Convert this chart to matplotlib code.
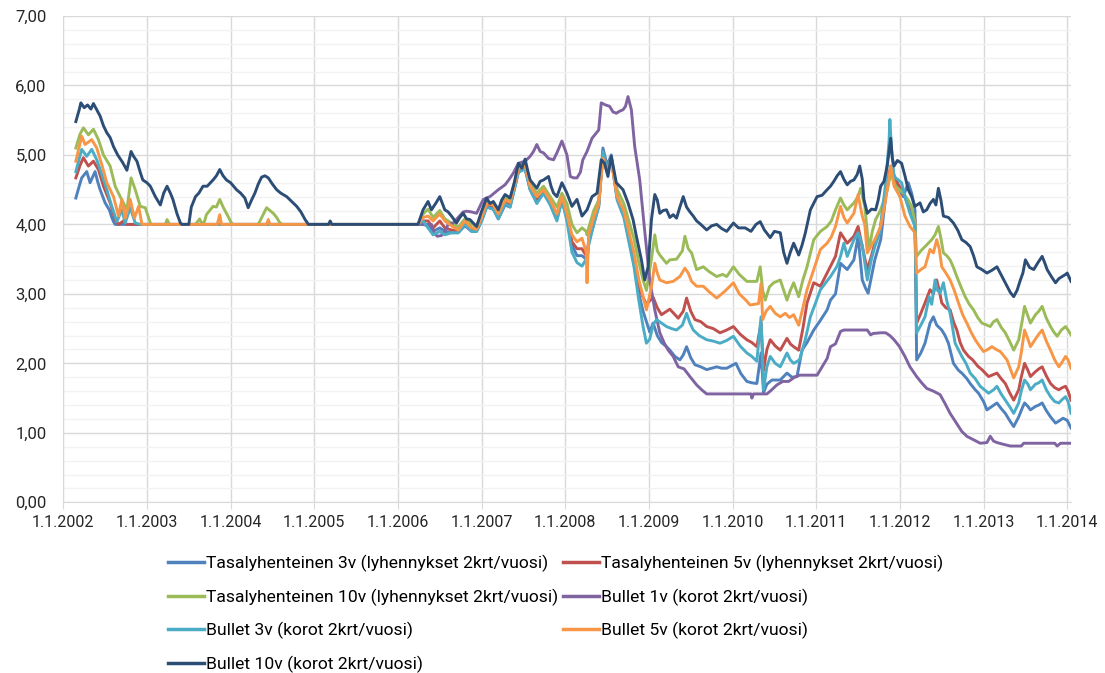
import matplotlib
matplotlib.use("Agg")
import matplotlib.pyplot as plt
import numpy as np
from matplotlib.lines import Line2D
from matplotlib.ticker import FuncFormatter, MultipleLocator

plt.rcParams["font.family"] = ["Roboto", "DejaVu Sans"]

# time axis is in decimal years; 2006.24-2008.97 is shared by the five bundled series
BUNDLE_T = [2006.24, 2006.30, 2006.36, 2006.42, 2006.50, 2006.56, 2006.64, 2006.72, 2006.80, 2006.88,
            2006.94, 2007.00, 2007.06, 2007.14, 2007.20, 2007.28, 2007.34, 2007.39, 2007.44, 2007.52,
            2007.58, 2007.66, 2007.74, 2007.82, 2007.90, 2007.96, 2008.02, 2008.08, 2008.14, 2008.20,
            2008.25, 2008.26, 2008.28, 2008.34, 2008.40, 2008.45, 2008.50, 2008.55, 2008.62, 2008.70,
            2008.76, 2008.82, 2008.88, 2008.93, 2008.97]

# Tasalyhenteinen 3v
TASA3_PRE = [(2002.15, 4.38), (2002.19, 4.55), (2002.22, 4.67), (2002.28, 4.76), (2002.32, 4.60),
             (2002.35, 4.68), (2002.38, 4.76), (2002.41, 4.62), (2002.44, 4.50), (2002.50, 4.31),
             (2002.55, 4.21), (2002.58, 4.10), (2002.60, 4.04), (2002.62, 4.00), (2006.22, 4.00)]
TASA3_MID = [4.00, 4.00, 3.98, 3.90, 3.95, 3.90, 3.88, 3.88, 3.98, 3.90,
             3.90, 4.05, 4.25, 4.22, 4.08, 4.28, 4.25, 4.50, 4.76, 4.80,
             4.50, 4.32, 4.45, 4.30, 4.08, 4.35, 4.08, 3.70, 3.55, 3.55,
             3.50, 3.50, 3.75, 4.00, 4.28, 5.10, 4.85, 5.00, 4.40, 4.15,
             3.80, 3.45, 3.00, 2.75, 2.60]
TASA3_POST = [(2009.01, 2.45), (2009.05, 2.58), (2009.10, 2.40), (2009.15, 2.30), (2009.21, 2.24),
              (2009.25, 2.19), (2009.31, 2.10), (2009.37, 2.05), (2009.41, 2.12), (2009.45, 2.24),
              (2009.50, 2.08), (2009.55, 1.98), (2009.62, 1.95), (2009.69, 1.91), (2009.75, 1.93),
              (2009.81, 1.95), (2009.87, 1.93), (2009.93, 1.93), (2010.04, 2.00), (2010.10, 1.85),
              (2010.17, 1.74), (2010.23, 1.72), (2010.29, 1.71), (2010.34, 2.15), (2010.37, 1.58),
              (2010.41, 1.70), (2010.47, 1.76), (2010.57, 1.76), (2010.65, 1.86), (2010.71, 1.80),
              (2010.77, 1.81), (2010.83, 2.19), (2010.89, 2.30), (2010.97, 2.48), (2011.05, 2.62),
              (2011.13, 2.77), (2011.17, 2.91), (2011.23, 3.00), (2011.29, 3.44), (2011.37, 3.35),
              (2011.45, 3.49), (2011.50, 3.83), (2011.55, 3.20), (2011.59, 3.08), (2011.62, 3.01),
              (2011.66, 3.25), (2011.70, 3.49), (2011.77, 3.78), (2011.83, 4.40), (2011.89, 4.79),
              (2011.95, 4.60), (2012.04, 4.40), (2012.10, 4.60), (2012.14, 4.45), (2012.18, 4.21),
              (2012.20, 2.05), (2012.25, 2.15), (2012.30, 2.29), (2012.36, 2.58), (2012.40, 2.67),
              (2012.44, 2.55), (2012.50, 2.48), (2012.54, 2.40), (2012.58, 2.29), (2012.64, 2.00),
              (2012.70, 1.90), (2012.74, 1.86), (2012.80, 1.78), (2012.84, 1.71), (2012.90, 1.62),
              (2012.94, 1.57), (2013.00, 1.45), (2013.04, 1.33), (2013.10, 1.38), (2013.16, 1.43),
              (2013.21, 1.35), (2013.26, 1.28), (2013.31, 1.18), (2013.36, 1.09), (2013.42, 1.23),
              (2013.46, 1.35), (2013.49, 1.43), (2013.53, 1.38), (2013.56, 1.33), (2013.62, 1.38),
              (2013.66, 1.40), (2013.70, 1.43), (2013.75, 1.32), (2013.80, 1.23), (2013.86, 1.14),
              (2013.90, 1.17), (2013.95, 1.21), (2014.00, 1.18), (2014.045, 1.07)]

# Tasalyhenteinen 5v
TASA5_PRE = [(2002.15, 4.67), (2002.20, 4.85), (2002.24, 4.96), (2002.30, 4.84), (2002.36, 4.91),
             (2002.42, 4.79), (2002.48, 4.55), (2002.56, 4.31), (2002.62, 4.07), (2002.66, 4.00),
             (2002.72, 4.05), (2002.76, 4.00), (2006.22, 4.00)]
TASA5_MID = [4.00, 4.05, 4.05, 3.95, 4.05, 3.95, 3.92, 3.90, 4.02, 3.92,
             3.92, 4.08, 4.27, 4.25, 4.12, 4.32, 4.28, 4.52, 4.78, 4.82,
             4.52, 4.35, 4.47, 4.32, 4.10, 4.38, 4.10, 3.75, 3.65, 3.65,
             3.55, 3.50, 3.80, 4.05, 4.28, 5.05, 4.80, 4.95, 4.38, 4.15,
             3.82, 3.50, 3.10, 2.95, 2.85]
TASA5_POST = [(2009.01, 2.90), (2009.05, 2.95), (2009.10, 2.80), (2009.15, 2.70), (2009.25, 2.78),
              (2009.35, 2.65), (2009.41, 2.75), (2009.45, 2.94), (2009.50, 2.75), (2009.55, 2.63),
              (2009.62, 2.60), (2009.69, 2.53), (2009.77, 2.50), (2009.85, 2.44), (2009.93, 2.48),
              (2010.01, 2.53), (2010.09, 2.42), (2010.17, 2.34), (2010.23, 2.30), (2010.29, 2.24),
              (2010.34, 2.58), (2010.37, 1.90), (2010.41, 2.20), (2010.45, 2.34), (2010.51, 2.25),
              (2010.57, 2.19), (2010.65, 2.36), (2010.69, 2.28), (2010.73, 2.24), (2010.79, 2.19),
              (2010.84, 2.50), (2010.89, 2.87), (2010.97, 3.16), (2011.05, 3.11), (2011.13, 3.30),
              (2011.23, 3.54), (2011.29, 3.88), (2011.37, 3.73), (2011.45, 3.83), (2011.50, 3.97),
              (2011.55, 3.68), (2011.61, 3.35), (2011.66, 3.55), (2011.70, 3.73), (2011.77, 3.97),
              (2011.83, 4.50), (2011.89, 4.84), (2011.95, 4.64), (2012.04, 4.45), (2012.12, 4.21),
              (2012.18, 4.07), (2012.20, 2.58), (2012.25, 2.72), (2012.30, 2.87), (2012.36, 3.06),
              (2012.40, 3.00), (2012.44, 3.20), (2012.47, 3.05), (2012.50, 2.87), (2012.55, 2.80),
              (2012.60, 2.77), (2012.64, 2.60), (2012.68, 2.48), (2012.72, 2.30), (2012.76, 2.19),
              (2012.82, 2.10), (2012.87, 2.05), (2012.93, 1.96), (2012.98, 1.91), (2013.06, 1.81),
              (2013.12, 1.84), (2013.16, 1.86), (2013.21, 1.78), (2013.26, 1.71), (2013.31, 1.58),
              (2013.36, 1.47), (2013.42, 1.62), (2013.45, 1.80), (2013.49, 2.00), (2013.53, 1.90),
              (2013.56, 1.81), (2013.62, 1.88), (2013.66, 1.92), (2013.70, 1.95), (2013.75, 1.82),
              (2013.80, 1.71), (2013.85, 1.65), (2013.90, 1.62), (2013.94, 1.65), (2013.98, 1.67),
              (2014.01, 1.60), (2014.045, 1.47)]

# Tasalyhenteinen 10v
TASA10_PRE = [(2002.15, 5.10), (2002.20, 5.30), (2002.24, 5.39), (2002.30, 5.29), (2002.36, 5.37),
              (2002.42, 5.22), (2002.48, 5.00), (2002.52, 4.92), (2002.56, 4.84), (2002.62, 4.55),
              (2002.68, 4.40), (2002.76, 4.21), (2002.81, 4.67), (2002.86, 4.50), (2002.92, 4.26),
              (2002.98, 4.24), (2003.04, 4.02), (2003.06, 4.00), (2003.22, 4.00), (2003.24, 4.07),
              (2003.27, 4.00), (2003.58, 4.00), (2003.63, 4.08), (2003.66, 4.00), (2003.69, 4.05),
              (2003.71, 4.14), (2003.75, 4.20), (2003.79, 4.26), (2003.83, 4.25), (2003.87, 4.36),
              (2003.91, 4.25), (2003.95, 4.16), (2004.01, 4.02), (2004.03, 4.00), (2004.33, 4.00),
              (2004.38, 4.12), (2004.43, 4.24), (2004.47, 4.20), (2004.51, 4.16), (2004.55, 4.10),
              (2004.59, 4.02), (2004.62, 4.00), (2006.22, 4.00)]
TASA10_MID = [4.00, 4.15, 4.22, 4.10, 4.20, 4.08, 4.02, 3.96, 4.08, 4.00,
              3.97, 4.14, 4.33, 4.30, 4.18, 4.38, 4.35, 4.58, 4.83, 4.88,
              4.58, 4.45, 4.55, 4.40, 4.25, 4.45, 4.30, 4.00, 3.88, 3.95,
              3.90, 3.85, 3.95, 4.20, 4.35, 4.95, 4.78, 4.92, 4.50, 4.30,
              4.05, 3.80, 3.45, 3.20, 3.05]
TASA10_POST = [(2009.03, 3.50), (2009.07, 3.85), (2009.10, 3.62), (2009.13, 3.56), (2009.21, 3.44),
               (2009.25, 3.49), (2009.33, 3.50), (2009.40, 3.62), (2009.43, 3.83), (2009.47, 3.65),
               (2009.51, 3.59), (2009.57, 3.35), (2009.65, 3.39), (2009.72, 3.32), (2009.81, 3.25),
               (2009.88, 3.28), (2009.93, 3.25), (2010.01, 3.39), (2010.08, 3.28), (2010.17, 3.18),
               (2010.29, 3.18), (2010.33, 3.39), (2010.36, 3.05), (2010.39, 2.91), (2010.44, 3.10),
               (2010.49, 3.16), (2010.57, 3.20), (2010.65, 2.91), (2010.69, 3.05), (2010.73, 3.16),
               (2010.79, 2.96), (2010.84, 3.20), (2010.89, 3.39), (2010.97, 3.78), (2011.05, 3.90),
               (2011.13, 3.97), (2011.18, 4.05), (2011.23, 4.21), (2011.29, 4.38), (2011.33, 4.28),
               (2011.37, 4.21), (2011.45, 4.31), (2011.50, 4.40), (2011.53, 4.52), (2011.58, 4.26),
               (2011.63, 3.64), (2011.67, 3.90), (2011.71, 4.07), (2011.77, 4.21), (2011.85, 4.50),
               (2011.89, 4.74), (2011.95, 4.55), (2012.04, 4.45), (2012.10, 4.35), (2012.14, 4.26),
               (2012.18, 4.02), (2012.20, 3.54), (2012.25, 3.62), (2012.30, 3.68), (2012.38, 3.78),
               (2012.42, 3.85), (2012.46, 3.97), (2012.49, 3.80), (2012.52, 3.59), (2012.56, 3.55),
               (2012.60, 3.49), (2012.64, 3.38), (2012.68, 3.25), (2012.73, 3.10), (2012.78, 2.96),
               (2012.83, 2.85), (2012.88, 2.77), (2012.93, 2.66), (2012.98, 2.58), (2013.04, 2.55),
               (2013.08, 2.53), (2013.12, 2.60), (2013.16, 2.63), (2013.21, 2.52), (2013.26, 2.44),
               (2013.31, 2.32), (2013.36, 2.19), (2013.42, 2.34), (2013.46, 2.60), (2013.49, 2.82),
               (2013.53, 2.68), (2013.56, 2.58), (2013.62, 2.70), (2013.66, 2.75), (2013.70, 2.82),
               (2013.75, 2.65), (2013.80, 2.53), (2013.84, 2.45), (2013.88, 2.39), (2013.93, 2.48),
               (2013.98, 2.53), (2014.01, 2.48), (2014.045, 2.41)]

# Bullet 1v
BULLET1 = [(2002.95, 4.00), (2006.40, 4.00), (2006.43, 3.88), (2006.47, 3.83), (2006.52, 3.84),
           (2006.56, 3.90), (2006.60, 4.00), (2006.66, 4.02), (2006.72, 4.10), (2006.78, 4.18),
           (2006.82, 4.19), (2006.88, 4.18), (2006.94, 4.16), (2007.02, 4.36), (2007.10, 4.40),
           (2007.20, 4.50), (2007.28, 4.57), (2007.33, 4.65), (2007.38, 4.74), (2007.44, 4.88),
           (2007.52, 4.91), (2007.58, 4.98), (2007.62, 5.05), (2007.66, 5.15), (2007.70, 5.05),
           (2007.74, 5.03), (2007.80, 4.95), (2007.86, 4.93), (2007.90, 5.03), (2007.96, 5.20),
           (2008.02, 5.00), (2008.06, 4.69), (2008.10, 4.67), (2008.14, 4.67), (2008.18, 4.75),
           (2008.21, 4.93), (2008.26, 5.05), (2008.32, 5.24), (2008.36, 5.30), (2008.40, 5.36),
           (2008.43, 5.75), (2008.48, 5.72), (2008.53, 5.70), (2008.57, 5.62), (2008.61, 5.60),
           (2008.65, 5.63), (2008.69, 5.65), (2008.72, 5.70), (2008.75, 5.84), (2008.79, 5.65),
           (2008.83, 5.12), (2008.89, 4.64), (2008.95, 3.90), (2009.01, 3.20), (2009.07, 2.77),
           (2009.13, 2.44), (2009.18, 2.30), (2009.23, 2.19), (2009.29, 2.10), (2009.35, 1.95),
           (2009.42, 1.92), (2009.49, 1.81), (2009.57, 1.69), (2009.63, 1.62), (2009.69, 1.56),
           (2010.22, 1.56), (2010.23, 1.50), (2010.25, 1.56), (2010.41, 1.56), (2010.45, 1.60),
           (2010.53, 1.69), (2010.60, 1.74), (2010.67, 1.74), (2010.74, 1.80), (2010.80, 1.83),
           (2011.01, 1.83), (2011.07, 1.95), (2011.13, 2.07), (2011.17, 2.24), (2011.23, 2.28),
           (2011.29, 2.46), (2011.33, 2.48), (2011.61, 2.48), (2011.65, 2.41), (2011.68, 2.43),
           (2011.77, 2.44), (2011.83, 2.44), (2011.88, 2.40), (2011.93, 2.34), (2011.99, 2.25),
           (2012.06, 2.10), (2012.12, 1.95), (2012.20, 1.81), (2012.26, 1.72), (2012.32, 1.64),
           (2012.40, 1.60), (2012.48, 1.55), (2012.54, 1.42), (2012.60, 1.28), (2012.67, 1.15),
           (2012.74, 1.02), (2012.80, 0.95), (2012.88, 0.90), (2012.96, 0.85), (2013.04, 0.86),
           (2013.08, 0.95), (2013.12, 0.88), (2013.16, 0.86), (2013.22, 0.84), (2013.32, 0.81),
           (2013.45, 0.81), (2013.48, 0.85), (2013.60, 0.85), (2013.85, 0.85), (2013.88, 0.81),
           (2013.92, 0.85), (2014.045, 0.85)]

# Bullet 3v
BULLET3_PRE = [(2002.15, 4.76), (2002.22, 5.08), (2002.28, 4.98), (2002.34, 5.08), (2002.40, 4.93),
               (2002.46, 4.72), (2002.52, 4.50), (2002.58, 4.26), (2002.64, 4.04), (2002.70, 4.21),
               (2002.74, 4.02), (2002.80, 4.24), (2002.86, 4.02), (2002.92, 4.00), (2006.22, 4.00)]
BULLET3_MID = [4.00, 4.05, 3.95, 3.85, 3.90, 3.85, 3.88, 3.88, 4.00, 3.90,
               3.90, 4.05, 4.25, 4.22, 4.08, 4.30, 4.25, 4.50, 4.75, 4.80,
               4.50, 4.30, 4.45, 4.28, 4.05, 4.35, 4.05, 3.60, 3.45, 3.40,
               3.50, 3.50, 3.70, 4.00, 4.25, 5.05, 4.80, 4.95, 4.35, 4.10,
               3.75, 3.40, 2.90, 2.53, 2.29]
BULLET3_POST = [(2009.01, 2.35), (2009.05, 2.55), (2009.09, 2.63), (2009.15, 2.58), (2009.21, 2.53),
                (2009.27, 2.50), (2009.33, 2.48), (2009.40, 2.55), (2009.45, 2.72), (2009.49, 2.58),
                (2009.53, 2.48), (2009.60, 2.40), (2009.69, 2.34), (2009.77, 2.32), (2009.85, 2.29),
                (2009.93, 2.33), (2010.01, 2.39), (2010.09, 2.25), (2010.17, 2.15), (2010.23, 2.10),
                (2010.29, 2.03), (2010.34, 2.67), (2010.37, 1.62), (2010.41, 1.95), (2010.45, 2.10),
                (2010.51, 2.00), (2010.57, 1.95), (2010.65, 2.15), (2010.69, 2.05), (2010.73, 2.00),
                (2010.80, 2.05), (2010.87, 2.35), (2010.93, 2.67), (2011.05, 3.06), (2011.17, 3.25),
                (2011.25, 3.40), (2011.29, 3.54), (2011.33, 3.73), (2011.37, 3.54), (2011.45, 3.78),
                (2011.50, 3.88), (2011.55, 3.70), (2011.61, 3.20), (2011.66, 3.50), (2011.70, 3.68),
                (2011.76, 3.88), (2011.83, 4.60), (2011.87, 5.20), (2011.88, 5.51), (2011.90, 5.08),
                (2011.93, 4.69), (2012.02, 4.60), (2012.07, 4.36), (2012.12, 4.16), (2012.18, 3.97),
                (2012.20, 2.44), (2012.25, 2.55), (2012.30, 2.67), (2012.35, 2.96), (2012.38, 2.85),
                (2012.42, 3.20), (2012.45, 3.05), (2012.48, 3.01), (2012.52, 3.16), (2012.56, 2.90),
                (2012.60, 2.72), (2012.66, 2.29), (2012.74, 2.10), (2012.79, 2.00), (2012.84, 1.86),
                (2012.90, 1.78), (2012.96, 1.67), (2013.06, 1.57), (2013.12, 1.62), (2013.16, 1.67),
                (2013.21, 1.56), (2013.26, 1.47), (2013.31, 1.38), (2013.36, 1.28), (2013.42, 1.43),
                (2013.45, 1.60), (2013.49, 1.76), (2013.53, 1.70), (2013.56, 1.62), (2013.62, 1.70),
                (2013.66, 1.72), (2013.70, 1.76), (2013.75, 1.62), (2013.80, 1.52), (2013.85, 1.45),
                (2013.90, 1.43), (2013.94, 1.48), (2013.98, 1.52), (2014.01, 1.45), (2014.045, 1.28)]

# Bullet 5v
BULLET5_PRE = [(2002.15, 4.91), (2002.22, 5.27), (2002.26, 5.15), (2002.34, 5.22), (2002.40, 5.10),
               (2002.46, 4.86), (2002.52, 4.60), (2002.60, 4.40), (2002.66, 4.12), (2002.70, 4.36),
               (2002.74, 4.09), (2002.80, 4.36), (2002.85, 4.09), (2002.90, 4.26), (2002.94, 4.00),
               (2003.84, 4.00), (2003.87, 4.14), (2003.89, 4.00), (2004.43, 4.00), (2004.45, 4.07),
               (2004.47, 4.00), (2006.22, 4.00)]
BULLET5_MID = [4.00, 4.10, 4.12, 4.05, 4.15, 4.05, 3.98, 3.92, 4.05, 3.95,
               3.93, 4.10, 4.30, 4.28, 4.15, 4.35, 4.32, 4.55, 4.80, 4.85,
               4.55, 4.40, 4.50, 4.35, 4.15, 4.40, 4.15, 3.85, 3.75, 3.80,
               3.60, 3.16, 3.85, 4.10, 4.30, 4.95, 4.75, 4.90, 4.40, 4.20,
               3.90, 3.60, 3.20, 2.96, 2.77]
BULLET5_POST = [(2009.03, 3.10), (2009.07, 3.44), (2009.10, 3.30), (2009.13, 3.20), (2009.21, 3.16),
                (2009.29, 3.18), (2009.37, 3.25), (2009.43, 3.37), (2009.47, 3.30), (2009.51, 3.18),
                (2009.57, 3.11), (2009.65, 3.11), (2009.72, 3.03), (2009.81, 2.94), (2009.90, 3.03),
                (2010.01, 3.16), (2010.08, 3.00), (2010.15, 2.92), (2010.21, 2.84), (2010.31, 2.86),
                (2010.34, 3.15), (2010.36, 2.63), (2010.40, 2.75), (2010.45, 2.82), (2010.51, 2.72),
                (2010.57, 2.67), (2010.63, 2.72), (2010.68, 2.66), (2010.73, 2.70), (2010.79, 2.55),
                (2010.84, 2.80), (2010.89, 3.06), (2010.97, 3.35), (2011.05, 3.64), (2011.13, 3.73),
                (2011.18, 3.82), (2011.23, 3.97), (2011.29, 4.26), (2011.33, 4.10), (2011.37, 4.02),
                (2011.45, 4.16), (2011.50, 4.43), (2011.55, 4.12), (2011.58, 4.00), (2011.61, 3.59),
                (2011.66, 3.70), (2011.70, 3.78), (2011.77, 3.97), (2011.83, 4.36), (2011.89, 4.84),
                (2011.93, 4.55), (2012.00, 4.40), (2012.06, 4.12), (2012.12, 3.97), (2012.18, 3.88),
                (2012.20, 3.30), (2012.25, 3.35), (2012.30, 3.39), (2012.36, 3.64), (2012.40, 3.59),
                (2012.44, 3.78), (2012.47, 3.65), (2012.50, 3.39), (2012.55, 3.30), (2012.60, 3.20),
                (2012.65, 3.05), (2012.70, 2.87), (2012.75, 2.70), (2012.80, 2.58), (2012.85, 2.45),
                (2012.90, 2.34), (2012.95, 2.25), (2013.00, 2.17), (2013.05, 2.20), (2013.10, 2.24),
                (2013.15, 2.20), (2013.20, 2.17), (2013.28, 2.05), (2013.32, 1.92), (2013.36, 1.79),
                (2013.42, 1.95), (2013.45, 2.15), (2013.49, 2.48), (2013.53, 2.35), (2013.56, 2.24),
                (2013.62, 2.35), (2013.66, 2.42), (2013.70, 2.48), (2013.75, 2.32), (2013.80, 2.19),
                (2013.85, 2.05), (2013.90, 1.95), (2013.94, 2.02), (2013.98, 2.10), (2014.01, 2.05),
                (2014.045, 1.93)]

# Bullet 10v
BULLET10 = [(2002.15, 5.48), (2002.19, 5.65), (2002.21, 5.75), (2002.25, 5.68), (2002.29, 5.72),
            (2002.33, 5.66), (2002.36, 5.74), (2002.40, 5.65), (2002.44, 5.56), (2002.48, 5.42),
            (2002.52, 5.32), (2002.56, 5.25), (2002.60, 5.12), (2002.65, 5.00), (2002.71, 4.89),
            (2002.76, 4.78), (2002.81, 5.05), (2002.84, 4.98), (2002.88, 4.91), (2002.92, 4.75),
            (2002.95, 4.64), (2003.00, 4.60), (2003.04, 4.55), (2003.10, 4.40), (2003.16, 4.28),
            (2003.20, 4.45), (2003.24, 4.55), (2003.28, 4.45), (2003.31, 4.36), (2003.36, 4.15),
            (2003.40, 4.02), (2003.42, 4.00), (2003.50, 4.00), (2003.53, 4.25), (2003.58, 4.40),
            (2003.62, 4.45), (2003.67, 4.55), (2003.72, 4.55), (2003.79, 4.64), (2003.83, 4.70),
            (2003.87, 4.79), (2003.91, 4.70), (2003.95, 4.64), (2004.00, 4.60), (2004.07, 4.50),
            (2004.12, 4.45), (2004.17, 4.38), (2004.21, 4.24), (2004.25, 4.35), (2004.29, 4.45),
            (2004.33, 4.58), (2004.37, 4.68), (2004.41, 4.70), (2004.45, 4.67), (2004.50, 4.58),
            (2004.55, 4.50), (2004.60, 4.45), (2004.67, 4.40), (2004.73, 4.33), (2004.79, 4.26),
            (2004.84, 4.18), (2004.89, 4.07), (2004.93, 4.00), (2005.17, 4.00), (2005.19, 4.05),
            (2005.21, 4.00), (2006.24, 4.00), (2006.30, 4.21), (2006.36, 4.33), (2006.40, 4.21),
            (2006.45, 4.30), (2006.50, 4.40), (2006.56, 4.21), (2006.60, 4.18), (2006.64, 4.12),
            (2006.70, 4.02), (2006.74, 4.10), (2006.78, 4.16), (2006.82, 4.08), (2006.86, 4.07),
            (2006.94, 3.97), (2007.00, 4.19), (2007.06, 4.38), (2007.10, 4.30), (2007.14, 4.33),
            (2007.20, 4.21), (2007.24, 4.35), (2007.28, 4.43), (2007.34, 4.38), (2007.39, 4.60),
            (2007.44, 4.88), (2007.48, 4.81), (2007.52, 4.94), (2007.55, 4.78), (2007.58, 4.64),
            (2007.62, 4.58), (2007.66, 4.52), (2007.70, 4.62), (2007.74, 4.64), (2007.80, 4.69),
            (2007.83, 4.55), (2007.86, 4.45), (2007.90, 4.40), (2007.96, 4.60), (2008.02, 4.45),
            (2008.08, 4.26), (2008.14, 4.36), (2008.20, 4.12), (2008.26, 4.21), (2008.32, 4.40),
            (2008.38, 4.45), (2008.43, 4.93), (2008.47, 4.88), (2008.51, 4.69), (2008.55, 4.98),
            (2008.61, 4.60), (2008.65, 4.55), (2008.69, 4.50), (2008.75, 4.31), (2008.81, 4.07),
            (2008.85, 3.83), (2008.91, 3.49), (2008.95, 3.20), (2008.99, 3.39), (2009.03, 4.07),
            (2009.07, 4.43), (2009.10, 4.35), (2009.13, 4.16), (2009.17, 4.20), (2009.21, 4.21),
            (2009.25, 4.10), (2009.29, 4.14), (2009.33, 4.09), (2009.37, 4.25), (2009.41, 4.40),
            (2009.45, 4.25), (2009.49, 4.18), (2009.53, 4.12), (2009.57, 4.05), (2009.62, 4.00),
            (2009.69, 3.92), (2009.75, 3.98), (2009.81, 4.00), (2009.87, 3.94), (2009.93, 3.90),
            (2010.01, 4.02), (2010.07, 3.95), (2010.15, 3.95), (2010.22, 3.90), (2010.28, 4.00),
            (2010.33, 4.04), (2010.38, 3.92), (2010.45, 3.81), (2010.50, 3.90), (2010.57, 3.88),
            (2010.61, 3.60), (2010.65, 3.44), (2010.69, 3.60), (2010.73, 3.73), (2010.79, 3.56),
            (2010.83, 3.70), (2010.87, 3.88), (2010.93, 4.21), (2011.01, 4.40), (2011.07, 4.42),
            (2011.13, 4.50), (2011.17, 4.55), (2011.21, 4.62), (2011.25, 4.70), (2011.29, 4.76),
            (2011.33, 4.65), (2011.37, 4.57), (2011.41, 4.62), (2011.45, 4.64), (2011.49, 4.72),
            (2011.52, 4.84), (2011.55, 4.65), (2011.57, 4.36), (2011.61, 4.16), (2011.66, 4.22),
            (2011.71, 4.21), (2011.74, 4.35), (2011.77, 4.55), (2011.81, 4.62), (2011.85, 4.86),
            (2011.88, 5.15), (2011.89, 5.24), (2011.91, 4.95), (2011.93, 4.84), (2011.97, 4.92),
            (2012.02, 4.88), (2012.06, 4.70), (2012.10, 4.50), (2012.14, 4.40), (2012.18, 4.26),
            (2012.24, 4.31), (2012.28, 4.18), (2012.32, 4.21), (2012.36, 4.30), (2012.40, 4.36),
            (2012.43, 4.28), (2012.46, 4.52), (2012.49, 4.35), (2012.52, 4.12), (2012.58, 4.10),
            (2012.64, 4.02), (2012.69, 3.92), (2012.74, 3.78), (2012.79, 3.74), (2012.84, 3.68),
            (2012.88, 3.55), (2012.92, 3.39), (2012.98, 3.35), (2013.04, 3.30), (2013.10, 3.34),
            (2013.16, 3.39), (2013.22, 3.25), (2013.28, 3.11), (2013.32, 3.02), (2013.36, 2.96),
            (2013.40, 3.05), (2013.44, 3.20), (2013.47, 3.30), (2013.50, 3.49), (2013.55, 3.38),
            (2013.60, 3.35), (2013.65, 3.45), (2013.70, 3.54), (2013.73, 3.45), (2013.76, 3.35),
            (2013.81, 3.25), (2013.86, 3.16), (2013.90, 3.22), (2013.94, 3.25), (2013.98, 3.28),
            (2014.00, 3.30), (2014.045, 3.18)]

LABELS = [
    "Tasalyhenteinen 3v (lyhennykset 2krt/vuosi)",
    "Tasalyhenteinen 5v (lyhennykset 2krt/vuosi)",
    "Tasalyhenteinen 10v (lyhennykset 2krt/vuosi)",
    "Bullet 1v (korot 2krt/vuosi)",
    "Bullet 3v (korot 2krt/vuosi)",
    "Bullet 5v (korot 2krt/vuosi)",
    "Bullet 10v (korot 2krt/vuosi)",
]
COLORS = ["#4F81BD", "#C0504D", "#9BBB59", "#8064A2", "#4BACC6", "#F79646", "#2C4D75"]
YEARS = list(range(2002, 2015))


def build(pre, mid=None, post=None):
    pts = list(pre)
    if mid is not None:
        pts += list(zip(BUNDLE_T, mid))
    if post is not None:
        pts += list(post)
    arr = np.array(pts)
    return arr[:, 0], arr[:, 1]


series = [
    build(TASA3_PRE, TASA3_MID, TASA3_POST),
    build(TASA5_PRE, TASA5_MID, TASA5_POST),
    build(TASA10_PRE, TASA10_MID, TASA10_POST),
    build(BULLET1),
    build(BULLET3_PRE, BULLET3_MID, BULLET3_POST),
    build(BULLET5_PRE, BULLET5_MID, BULLET5_POST),
    build(BULLET10),
]

W, H = 1105, 673
fig = plt.figure(figsize=(W / 100, H / 100), dpi=100)
ax = fig.add_axes([63.3 / W, 1 - 502.3 / H, (1071 - 63.3) / W, (502.3 - 16) / H])

for (t, v), col in zip(series, COLORS):
    ax.plot(t, v, color=col, lw=2.1, solid_joinstyle="round")

ax.set_xlim(2002, 2014.045)
ax.set_ylim(0, 7)
ax.set_xticks(YEARS)
ax.set_xticklabels([f"1.1.{y}" for y in YEARS])
ax.yaxis.set_major_locator(MultipleLocator(1))
ax.yaxis.set_minor_locator(MultipleLocator(0.2))
ax.yaxis.set_major_formatter(FuncFormatter(lambda v, _: f"{v:.2f}".replace(".", ",")))

ax.set_axisbelow(True)
ax.grid(which="major", color="#D9D9D9", lw=1.0)
ax.grid(which="minor", axis="y", color="#F2F2F2", lw=1.0)
for s in ("top", "right"):
    ax.spines[s].set_visible(False)
for s in ("left", "bottom"):
    ax.spines[s].set_color("#D9D9D9")
ax.tick_params(axis="y", which="both", length=0, pad=12, labelsize=12, labelcolor="#262626")
ax.tick_params(axis="x", length=5, color="#D9D9D9", pad=4, labelsize=11.5, labelcolor="#262626")

handles = [Line2D([], [], color=c, lw=2.5) for c in COLORS]
leg_kw = dict(frameon=False, fontsize=12.6, handlelength=2.05, handletextpad=0.12,
              labelspacing=0.93, borderpad=0, borderaxespad=0, loc="upper left")
left_idx = [0, 2, 4, 6]
right_idx = [1, 3, 5]
fig.legend([handles[i] for i in left_idx], [LABELS[i] for i in left_idx],
           bbox_to_anchor=(168 / W, 1 - 555 / H), **leg_kw)
fig.legend([handles[i] for i in right_idx], [LABELS[i] for i in right_idx],
           bbox_to_anchor=(563 / W, 1 - 555 / H), **leg_kw)

fig.savefig("out.png", dpi=100)
